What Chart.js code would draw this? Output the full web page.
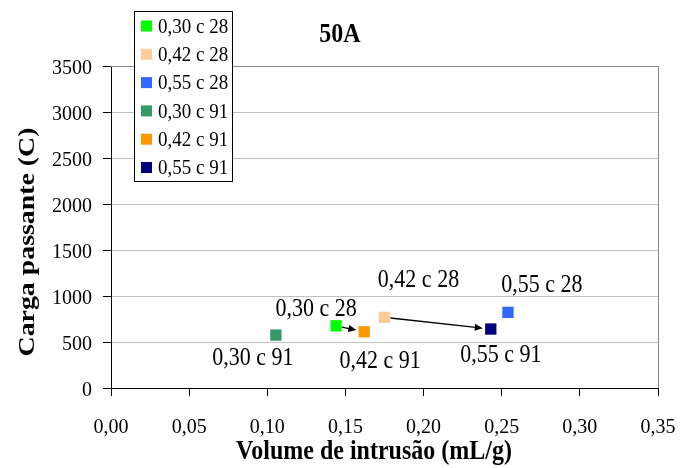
<!DOCTYPE html>
<html>
<head>
<meta charset="utf-8">
<script src="https://cdn.jsdelivr.net/npm/chart.js@4.4.1/dist/chart.umd.min.js"></script>
<style>
  html, body { margin: 0; padding: 0; background: #ffffff; }
  #wrap { position: relative; width: 681px; height: 468px; }
</style>
</head>
<body>
<div id="wrap"><canvas id="chart" width="681" height="468"></canvas></div>
<script>
// Series: water/cement ratio and curing age
const seriesNames = ['0,30 c 28', '0,42 c 28', '0,55 c 28', '0,30 c 91', '0,42 c 91', '0,55 c 91'];
const seriesColors = ['#00FF00', '#FFCC99', '#3366FF', '#339966', '#FF9900', '#000080'];
// Intrusion volume (mL/g) and passing charge (C)
const intrusionVolume = [0.144, 0.175, 0.254, 0.1055, 0.162, 0.243];
const passingCharge = [676, 768, 822, 575, 611, 641];
// Label offsets (px) from each point centre
const labelDx = [-20, 34, 34, -23, 16, 10];
const labelDy = [-16, -37, -27, 23, 30, 26];
// Arrows: from index -> to index
const arrowFrom = [0, 1];
const arrowTo = [4, 5];

const xTicks = [0, 0.05, 0.10, 0.15, 0.20, 0.25, 0.30, 0.35];
const yTicks = [0, 500, 1000, 1500, 2000, 2500, 3000, 3500];

const SERIF = '"Liberation Serif", "Times New Roman", serif';
const STRETCH = 1.14; // text is slightly taller than wide

function stretchedText(ctx, text, x, y) {
  ctx.save();
  ctx.translate(x, y);
  ctx.scale(1, STRETCH);
  ctx.fillText(text, 0, 0);
  ctx.restore();
}

const datasets = seriesNames.map((name, i) => ({
  label: name,
  data: [{ x: intrusionVolume[i], y: passingCharge[i] }],
  backgroundColor: seriesColors[i],
  borderColor: seriesColors[i],
  borderWidth: 0,
  pointStyle: 'rect',
  pointRadius: 8,
  pointHoverRadius: 8
}));

const decorations = {
  id: 'decorations',
  afterDatasetsDraw(chart) {
    const ctx = chart.ctx;
    const area = chart.chartArea;
    ctx.save();

    // plot area border (top and right)
    ctx.strokeStyle = '#888888';
    ctx.lineWidth = 1;
    ctx.beginPath();
    ctx.moveTo(area.left, area.top + 0.5);
    ctx.lineTo(area.right + 0.5, area.top + 0.5);
    ctx.lineTo(area.right + 0.5, area.bottom);
    ctx.stroke();

    const pt = i => chart.getDatasetMeta(i).data[0];

    // arrows between series
    ctx.strokeStyle = '#000000';
    ctx.fillStyle = '#000000';
    ctx.lineWidth = 1.3;
    arrowFrom.forEach((f, k) => {
      const a = pt(f), b = pt(arrowTo[k]);
      const ang = Math.atan2(b.y - a.y, b.x - a.x);
      const x1 = a.x + Math.cos(ang) * 6, y1 = a.y + Math.sin(ang) * 6;
      const x2 = b.x - Math.cos(ang) * 8, y2 = b.y - Math.sin(ang) * 8;
      ctx.beginPath();
      ctx.moveTo(x1, y1);
      ctx.lineTo(x2 - Math.cos(ang) * 5, y2 - Math.sin(ang) * 5);
      ctx.stroke();
      const hl = 8, hw = 3.5;
      ctx.beginPath();
      ctx.moveTo(x2, y2);
      ctx.lineTo(x2 - Math.cos(ang) * hl - Math.sin(ang) * hw, y2 - Math.sin(ang) * hl + Math.cos(ang) * hw);
      ctx.lineTo(x2 - Math.cos(ang) * hl + Math.sin(ang) * hw, y2 - Math.sin(ang) * hl - Math.cos(ang) * hw);
      ctx.closePath();
      ctx.fill();
    });

    // data labels
    ctx.font = '22px ' + SERIF;
    ctx.fillStyle = '#000000';
    ctx.textAlign = 'center';
    ctx.textBaseline = 'middle';
    seriesNames.forEach((name, i) => {
      const p = pt(i);
      stretchedText(ctx, name, p.x + labelDx[i], p.y + labelDy[i]);
    });

    // axis titles
    ctx.font = 'bold 24px ' + SERIF;
    stretchedText(ctx, 'Volume de intrusão (mL/g)', 374, 452);
    ctx.save();
    ctx.translate(28, 242);
    ctx.rotate(-Math.PI / 2);
    ctx.scale(1.16, 1);
    ctx.fillText('Carga passante (C)', 0, 0);
    ctx.restore();

    // chart title
    ctx.font = 'bold 24px ' + SERIF;
    stretchedText(ctx, '50A', 340, 35);

    // legend box
    const lx = 134, ly = 11, lw = 98, lh = 170;
    ctx.fillStyle = '#ffffff';
    ctx.fillRect(lx, ly, lw, lh);
    ctx.strokeStyle = '#000000';
    ctx.lineWidth = 1;
    ctx.strokeRect(lx + 0.5, ly + 0.5, lw, lh);
    ctx.font = '19px ' + SERIF;
    ctx.textAlign = 'left';
    seriesNames.forEach((name, i) => {
      const cy = 26 + i * 28.3;
      ctx.fillStyle = seriesColors[i];
      ctx.fillRect(141, cy - 5.5, 11, 11);
      ctx.fillStyle = '#000000';
      stretchedText(ctx, name, 158, cy + 1);
    });

    ctx.restore();
  }
};

new Chart(document.getElementById('chart'), {
  type: 'scatter',
  data: { datasets },
  options: {
    responsive: false,
    animation: false,
    events: [],
    layout: { padding: { top: 66, right: 23, left: 0, bottom: 0 } },
    plugins: {
      legend: { display: false },
      tooltip: { enabled: false },
      title: { display: false }
    },
    scales: {
      x: {
        type: 'linear',
        min: 0,
        max: 0.35,
        afterBuildTicks: s => { s.ticks = xTicks.map(v => ({ value: v })); },
        afterFit: s => { s.height = 80; s.paddingLeft = 0; s.paddingRight = 0; },
        ticks: {
          color: '#000000',
          font: { family: SERIF, size: 20 },
          padding: 20,
          maxRotation: 0,
          callback: v => v.toFixed(2).replace('.', ',')
        },
        grid: { display: true, drawOnChartArea: false, drawTicks: true, tickLength: 8, tickColor: '#000000' },
        border: { display: true, color: '#000000', width: 1 }
      },
      y: {
        type: 'linear',
        min: 0,
        max: 3500,
        afterBuildTicks: s => { s.ticks = yTicks.map(v => ({ value: v })); },
        afterFit: s => { s.width = 111; s.paddingTop = 0; s.paddingBottom = 0; },
        ticks: {
          color: '#000000',
          font: { family: SERIF, size: 20 },
          padding: 11,
          labelOffset: 3,
          callback: v => String(v)
        },
        grid: { display: true, color: '#c0c0c0', lineWidth: 1, drawTicks: true, tickLength: 8, tickColor: '#000000' },
        border: { display: true, color: '#000000', width: 1 }
      }
    }
  },
  plugins: [decorations]
});
</script>
</body>
</html>
